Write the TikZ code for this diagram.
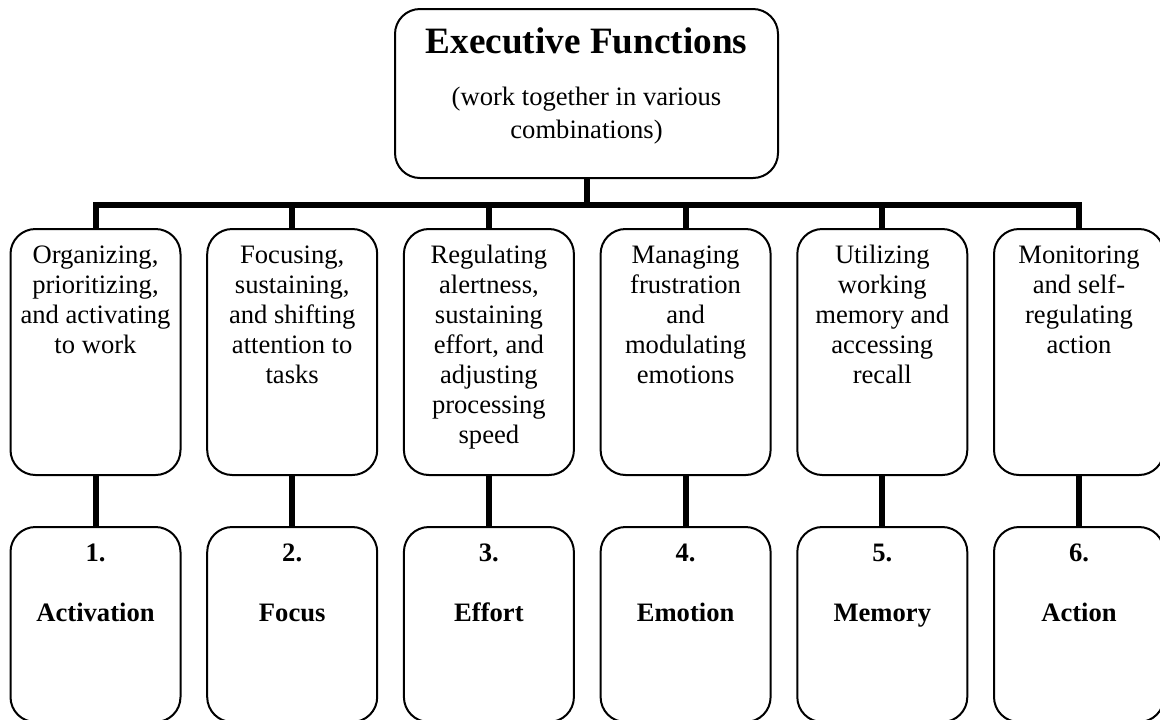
\documentclass[tikz,border=0pt]{standalone}
\usepackage{fontspec}
\setmainfont{Liberation Serif}
\usetikzlibrary{positioning}

\newcommand{\boxbody}[2]{\parbox[c][#1][t]{85pt}{\centering\rule{0pt}{17pt}#2}}

\tikzset{
  func/.style={draw, rounded corners=12.5pt, line width=1pt, inner sep=0pt, outer sep=0pt,
    font=\fontsize{13.3}{15}\selectfont},
  link/.style={line width=3pt}
}

\begin{document}
\begin{tikzpicture}[x=0.5pt,y=-0.5pt]
  \path[use as bounding box, clip] (0,0) rectangle (1160,719);
  \node [func] (exec) at (586.5,93.5) {\parbox[c][84.5pt][t]{191.5pt}{\centering\rule{0pt}{22pt}%
    {\bfseries\fontsize{18.6}{20}\selectfont Executive Functions\par}\vspace{9.5pt}%
    \fontsize{13.3}{16.5}\selectfont (work together in various\\combinations)}};
  \coordinate (bus) at (587,205);
  \node [func] (organize) at (95.5,352) {\boxbody{123pt}{Organizing,\\prioritizing,\\and activating\\to work}};
  \node [func] (attend) [right=13.35pt of organize] {\boxbody{123pt}{Focusing,\\sustaining,\\and shifting\\attention to\\tasks}};
  \node [func] (regulate) [right=13.35pt of attend] {\boxbody{123pt}{Regulating\\alertness,\\sustaining\\effort, and\\adjusting\\processing\\speed}};
  \node [func] (manage) [right=13.35pt of regulate] {\boxbody{123pt}{Managing\\frustration\\and\\modulating\\emotions}};
  \node [func] (utilize) [right=13.35pt of manage] {\boxbody{123pt}{Utilizing\\working\\memory and\\accessing\\recall}};
  \node [func] (monitor) [right=13.35pt of utilize] {\boxbody{123pt}{Monitoring\\and self-\\regulating\\action}};
  \node [func] (activation) [below=26pt of organize] {\boxbody{97.5pt}{\textbf{1.}\\[15pt]\textbf{Activation}}};
  \node [func] (focus) [below=26pt of attend] {\boxbody{97.5pt}{\textbf{2.}\\[15pt]\textbf{Focus}}};
  \node [func] (effort) [below=26pt of regulate] {\boxbody{97.5pt}{\textbf{3.}\\[15pt]\textbf{Effort}}};
  \node [func] (emotion) [below=26pt of manage] {\boxbody{97.5pt}{\textbf{4.}\\[15pt]\textbf{Emotion}}};
  \node [func] (memory) [below=26pt of utilize] {\boxbody{97.5pt}{\textbf{5.}\\[15pt]\textbf{Memory}}};
  \node [func] (action) [below=26pt of monitor] {\boxbody{97.5pt}{\textbf{6.}\\[15pt]\textbf{Action}}};
  \draw [link] (exec.south) -- (exec.south |- bus);
  \draw [link] (organize.north) |- (bus) -| (monitor.north);
  \draw [link] (attend.north) -- (attend.north |- bus);
  \draw [link] (regulate.north) -- (regulate.north |- bus);
  \draw [link] (manage.north) -- (manage.north |- bus);
  \draw [link] (utilize.north) -- (utilize.north |- bus);
  \draw [link] (organize) -- (activation);
  \draw [link] (attend) -- (focus);
  \draw [link] (regulate) -- (effort);
  \draw [link] (manage) -- (emotion);
  \draw [link] (utilize) -- (memory);
  \draw [link] (monitor) -- (action);
\end{tikzpicture}
\end{document}
